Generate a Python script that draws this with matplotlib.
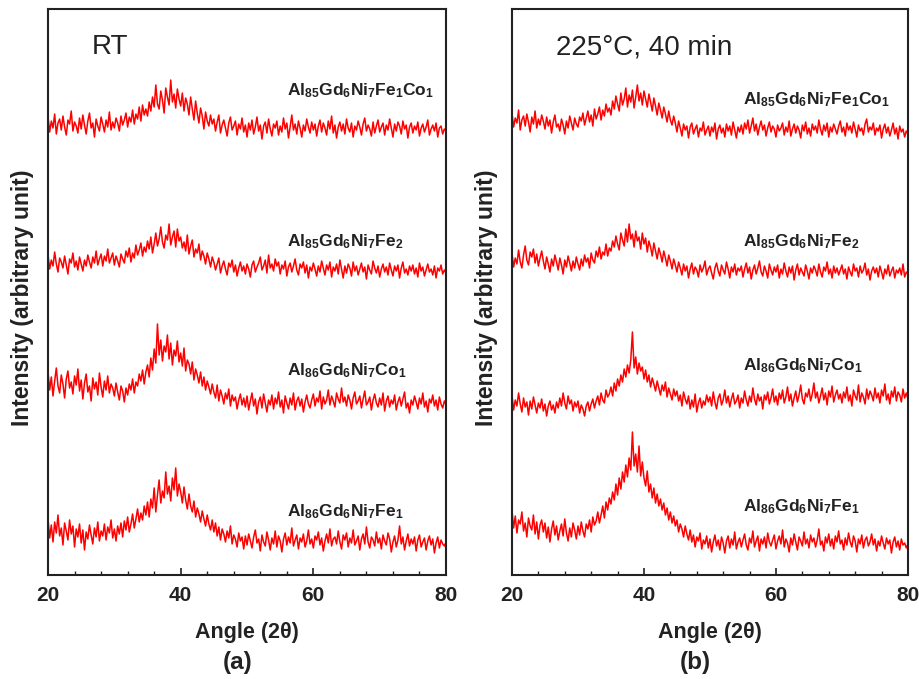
import numpy as np
import matplotlib
matplotlib.use("Agg")
import matplotlib.pyplot as plt
from matplotlib.ticker import MultipleLocator

plt.rcParams['font.family'] = ['Liberation Sans', 'DejaVu Sans']
plt.rcParams['mathtext.fontset'] = 'custom'
plt.rcParams['mathtext.rm'] = 'Liberation Sans'
plt.rcParams['mathtext.bf'] = 'Liberation Sans:bold'

# XRD scans, 20-80 deg (2 theta), 0.25 deg step, intensity in arbitrary units
# one row per 5 deg
rt_fe1co1 = [
    18, 3, 14, 7, 21, 1, 12, 16, 5, 19, 8, 0, 15, 11, 24, 4, 13, 9, 2, 17,
    6, 20, 10, 1, 14, 22, 7, 12, -2, 16, 9, 4, 18, 11, 3, 15, 8, 23, 5, 13,
    7, 17, 12, 4, 19, 10, 15, 22, 8, 18, 13, 25, 11, 21, 16, 28, 14, 30, 20, 26,
    19, 33, 24, 38, 28, 50, 31, 26, 44, 35, 22, 47, 38, 30, 55, 33, 41, 27, 46, 36,
    29, 42, 24, 37, 31, 20, 38, 26, 15, 34, 22, 12, 27, 19, 6, 23, 14, 9, 20, 11,
    16, 4, 13, 20, 2, 10, 15, 7, -1, 12, 18, 5, 9, 14, 0, 11, 6, 17, 3, 10,
    -2, 12, 5, 15, 1, 8, 18, 4, 10, -4, 9, 13, 2, 16, 6, -1, 11, 7, 14, 0,
    9, 3, 17, 6, 12, -3, 8, 20, 5, 11, 1, 14, 7, -2, 10, 4, 16, 8, 2, 13,
    5, 11, -1, 9, 15, 3, 12, 7, 0, 14, 6, 19, 2, 10, -3, 8, 13, 4, 11, 1,
    16, 7, 3, 12, -2, 9, 5, 14, 8, 0, 11, 17, 4, 10, 6, -1, 13, 2, 9, 15,
    3, 8, 12, 0, 10, 5, 16, 7, -2, 11, 4, 13, 9, 1, 14, 6, 10, -3, 8, 12,
    2, 9, 5, 13, -1, 7, 11, 3, 8, 15, 0, 6, 10, 4, 12, -2, 7, 9, 1, 6, 4]
rt_fe2 = [
    20, 6, 15, 9, 23, 11, 3, 17, 13, 7, 19, 10, 1, 16, 12, 22, 8, 14, 5, 18,
    11, 4, 15, 9, 20, 13, 7, 18, 12, 24, 10, 16, 21, 9, 19, 14, 26, 12, 17, 22,
    10, 19, 14, 8, 21, 16, 12, 24, 18, 27, 13, 22, 17, 30, 20, 25, 32, 19, 28, 23,
    34, 26, 38, 22, 31, 42, 29, 36, 48, 33, 27, 40, 35, 51, 30, 38, 44, 28, 46, 34,
    38, 27, 33, 24, 40, 21, 29, 35, 18, 26, 22, 31, 15, 24, 19, 11, 22, 16, 8, 18,
    13, 5, 11, 17, 2, 9, 14, 6, 0, 12, 8, 15, 3, 10, -1, 7, 13, 4, 9, 1,
    11, 6, -2, 10, 14, 3, 8, 12, 18, 5, 9, 15, 2, 20, 7, 11, 4, 16, 9, 13,
    1, 10, 6, 14, -1, 8, 12, 3, 9, 16, 5, 0, 11, 7, 13, 2, 10, -3, 8, 4,
    12, 6, -1, 9, 3, 14, 7, 0, 10, 5, 13, -2, 8, 4, 11, 1, 15, 6, -3, 9,
    2, 11, 7, -1, 13, 4, 9, 0, 6, 12, 3, 8, -4, 10, 5, 1, 14, 7, 2, 9,
    -2, 6, 11, 3, 8, 0, 12, 5, -1, 9, 4, 10, -3, 7, 13, 2, 6, 0, 9, 4,
    10, 1, 7, -2, 12, 4, 8, -1, 5, 11, 3, 6, 0, 9, -3, 7, 4, 10, 1, 5, 2]
rt_co1 = [
    38, 20, 33, 14, 29, 42, 24, 17, 35, 26, 12, 31, 39, 22, 28, 16, 34, 25, 41, 19,
    30, 11, 27, 36, 18, 24, 9, 32, 21, 28, 15, 37, 23, 13, 29, 20, 34, 17, 26, 22,
    14, 27, 18, 10, 24, 19, 8, 22, 15, 26, 20, 31, 17, 28, 24, 36, 29, 40, 26, 38,
    45, 33, 52, 40, 61, 47, 86, 55, 70, 49, 64, 58, 75, 51, 67, 45, 60, 54, 69, 48,
    57, 44, 62, 39, 50, 46, 36, 48, 30, 41, 35, 27, 38, 24, 33, 20, 29, 23, 16, 26,
    18, 12, 25, 9, 20, 14, 6, 17, 11, 21, 4, 15, 9, 13, 1, 10, 16, 5, 12, 3,
    14, 0, 9, 17, 4, 11, -4, 8, 13, 2, 16, 7, -2, 10, 5, 15, 1, 12, 6, 18,
    3, 10, -3, 14, 7, 1, 12, 5, 17, 0, 9, 13, 4, 11, -2, 8, 15, 6, 2, 10,
    16, 4, 12, 8, 19, 1, 13, 6, 10, 20, 5, 14, 9, 3, 17, 11, 7, 22, 8, 13,
    4, 15, 10, 1, 12, 18, 6, 9, 14, 2, 11, 19, 5, 8, 13, 0, 10, 16, 7, 3,
    12, 5, 17, -1, 9, 14, 3, 10, 6, 15, 0, 8, 13, 4, 11, 18, 2, 7, -3, 10,
    5, 14, 8, 1, 12, 6, 17, 3, 9, -2, 11, 7, 15, 4, 10, 0, 13, 6, 2, 9, 5]
rt_fe1 = [
    31, 12, 25, 8, 28, 17, 35, 14, 22, 5, 27, 19, 10, 30, 16, 24, 3, 21, 13, 26,
    7, 20, 0, 18, 11, 25, 15, 6, 22, 13, 28, 9, 19, 14, 26, 10, 23, 17, 30, 12,
    21, 9, 24, 16, 27, 13, 29, 20, 33, 18, 26, 36, 22, 31, 41, 28, 37, 30, 44, 35,
    48, 33, 51, 42, 62, 38, 55, 70, 47, 59, 52, 78, 56, 64, 49, 72, 60, 82, 54, 66,
    58, 47, 63, 50, 41, 56, 44, 38, 49, 33, 42, 36, 28, 39, 31, 24, 35, 26, 20, 30,
    18, 27, 14, 23, 10, 21, 16, 8, 19, 12, 24, 6, 15, 11, 3, 17, 9, 13, 1, 14,
    5, 16, 9, 2, 13, 20, 7, 11, -1, 15, 8, 4, 18, 10, 0, 12, 6, 19, 3, 14,
    9, -2, 11, 17, 5, 13, 7, 22, 4, 10, 15, 1, 12, 8, 16, 3, 9, 20, 6, 11,
    2, 14, 10, 18, 5, 12, -1, 9, 16, 7, 21, 4, 11, 13, 6, 19, 8, 1, 15, 10,
    17, 3, 12, 7, 20, 5, 9, 14, 0, 11, 16, 6, 23, 8, 2, 13, 10, 4, 18, 7,
    12, 1, 15, 9, 5, 17, 11, -2, 8, 14, 3, 10, 24, 6, 13, 0, 9, 16, 4, 11,
    6, 13, -1, 10, 15, 3, 8, 12, 0, 9, 14, 5, 11, -3, 7, 13, 2, 10, 6, 4, 8]

ann_fe1co1 = [
    22, 8, 17, 12, 25, 5, 15, 19, 9, 21, 13, 3, 18, 11, 24, 7, 16, 10, 20, 14,
    6, 18, 9, 15, 2, 13, 20, 8, 11, 4, 16, 10, 1, 14, 7, 19, 12, 5, 17, 11,
    8, 18, 14, 22, 10, 17, 24, 13, 20, 9, 26, 16, 21, 28, 15, 25, 19, 31, 23, 27,
    20, 34, 26, 39, 31, 24, 42, 30, 36, 47, 28, 40, 33, 45, 27, 38, 50, 34, 42, 30,
    44, 36, 28, 41, 33, 24, 37, 29, 20, 32, 25, 17, 28, 21, 13, 24, 15, 10, 19, 12,
    3, 14, 7, -1, 11, 5, 9, -3, 8, 12, 1, 6, 10, -2, 7, 4, 13, 0, 5, 9,
    -1, 8, 3, 12, -4, 6, 10, 2, 7, -2, 11, 4, 9, 0, 13, 5, -3, 8, 3, 10,
    1, 12, 6, 15, 2, 9, 17, 4, 11, 0, 8, 14, 5, 10, -1, 7, 13, 3, 9, 6,
    -2, 10, 4, 7, 12, 0, 8, 3, 14, -1, 6, 11, 2, 9, 5, -3, 10, 4, 13, 1,
    7, -1, 11, 5, 9, 2, 15, 6, 0, 10, 4, 12, -2, 8, 3, 11, 6, 1, 9, 14,
    3, 8, -1, 12, 5, 9, 2, 13, 6, -2, 10, 4, 7, 0, 11, 16, 3, 8, 5, 12,
    0, 7, 4, 10, -3, 6, 11, 2, 8, -1, 5, 12, 1, 7, -4, 9, 3, 6, -2, 4, 1]
ann_fe2 = [
    24, 10, 19, 13, 27, 15, 9, 22, 31, 17, 12, 25, 20, 28, 14, 23, 11, 19, 26, 16,
    8, 20, 13, 5, 18, 11, 22, 15, 7, 19, 12, 3, 17, 10, 21, 14, 6, 16, 9, 20,
    13, 7, 18, 11, 22, 15, 19, 9, 24, 17, 14, 26, 20, 30, 18, 25, 22, 33, 21, 29,
    26, 36, 30, 41, 33, 27, 44, 37, 31, 48, 35, 53, 38, 43, 30, 46, 36, 40, 28, 44,
    33, 39, 25, 36, 30, 21, 34, 26, 18, 29, 23, 15, 26, 19, 11, 22, 16, 8, 18, 12,
    5, 15, 9, 2, 13, 6, 11, -1, 8, 14, 3, 10, 7, 0, 12, 5, 9, 16, 2, 8,
    11, 4, -2, 9, 14, 6, 1, 12, 7, 3, 15, 8, -1, 10, 5, 13, 2, 9, 6, 11,
    0, 8, 14, 4, 10, -2, 7, 12, 3, 9, 16, 5, 1, 11, 6, -1, 13, 7, 2, 10,
    5, 12, -1, 8, 3, 14, 6, 0, 10, 4, 11, -3, 7, 13, 2, 9, 5, 1, 12, 6,
    -2, 9, 4, 11, 7, 1, 13, 5, 0, 10, 6, 15, 3, 8, -1, 11, 4, 9, 2, 7,
    12, 3, 8, -2, 10, 5, 1, 13, 6, 9, 0, 11, 4, 7, 14, 2, 8, -3, 6, 10,
    4, 9, 0, 11, 5, -2, 8, 3, 12, 1, 6, 10, -1, 7, 4, 9, 2, 13, 0, 5, 3]
ann_co1 = [
    20, 5, 15, 9, 22, 11, 3, 17, 8, 13, 0, 14, 6, 18, 10, 2, 12, 7, 16, 4,
    11, -1, 9, 14, 5, 10, 2, 13, 7, 17, 9, 22, 12, 6, 19, 11, 15, 4, 13, 8,
    14, 2, 10, 6, -1, 9, 13, 4, 11, 16, 7, 14, 19, 10, 22, 15, 12, 25, 18, 21,
    28, 19, 32, 24, 36, 29, 40, 33, 46, 38, 50, 42, 55, 83, 47, 58, 41, 52, 44, 48,
    36, 45, 33, 40, 28, 37, 31, 24, 34, 27, 20, 30, 24, 33, 18, 27, 21, 15, 26, 19,
    24, 14, 20, 9, 23, 16, 11, 19, 6, 15, 8, 21, 3, 12, 17, 7, 14, 10, 20, 13,
    18, 9, 23, 13, 6, 17, 21, 10, 15, 25, 12, 19, 8, 16, 22, 11, 14, 20, 7, 17,
    12, 24, 15, 9, 19, 13, 27, 16, 10, 21, 14, 18, 6, 20, 15, 23, 11, 17, 26, 13,
    19, 10, 22, 16, 25, 12, 18, 28, 14, 21, 9, 17, 24, 13, 20, 30, 16, 11, 22, 18,
    26, 14, 21, 32, 17, 23, 12, 19, 27, 15, 22, 10, 24, 18, 29, 13, 20, 25, 16, 21,
    12, 23, 17, 28, 14, 20, 9, 25, 19, 15, 30, 13, 22, 18, 11, 26, 16, 24, 20, 14,
    27, 17, 22, 12, 25, 19, 31, 15, 21, 11, 24, 18, 28, 14, 23, 20, 13, 26, 17, 22, 16]
ann_fe1 = [
    40, 22, 34, 17, 30, 26, 38, 19, 27, 13, 32, 24, 20, 35, 16, 28, 11, 25, 30, 18,
    27, 12, 23, 8, 21, 29, 15, 24, 10, 19, 26, 14, 31, 17, 9, 22, 13, 27, 20, 11,
    24, 15, 28, 19, 13, 26, 21, 30, 18, 33, 25, 29, 38, 27, 35, 44, 32, 48, 40, 52,
    46, 58, 50, 66, 55, 72, 61, 78, 68, 85, 73, 92, 80, 118, 84, 96, 78, 104, 74, 88,
    72, 64, 79, 58, 66, 52, 62, 47, 56, 44, 51, 40, 47, 35, 42, 30, 38, 27, 34, 24,
    30, 18, 26, 21, 13, 24, 16, 10, 20, 8, 15, 3, 13, 9, 17, 1, 10, 6, 14, 2,
    11, -2, 8, 15, 4, 10, 0, 13, 7, -3, 9, 14, 2, 11, 5, 18, 1, 8, 12, 3,
    10, 16, 5, 0, 12, 7, 19, 3, 9, 14, -1, 11, 6, 13, 2, 17, 8, 4, 10, 15,
    1, 9, 14, 6, 20, 3, 11, 7, -2, 12, 5, 16, 8, 0, 13, 9, 4, 18, 6, 11,
    2, 15, 8, 12, 3, 10, 21, 5, 9, -1, 13, 7, 16, 4, 11, 1, 14, 8, 19, 6,
    10, 0, 12, 5, 17, 8, 3, 14, 9, -2, 11, 6, 15, 2, 10, 13, 4, 8, 16, 5,
    11, -1, 9, 4, 14, 7, 1, 12, 6, 10, -3, 8, 13, 3, 9, 0, 11, 5, 7, 2, 6]

labels = [r'$\mathbf{Al_{85}Gd_{6}Ni_{7}Fe_{1}Co_{1}}$',
          r'$\mathbf{Al_{85}Gd_{6}Ni_{7}Fe_{2}}$',
          r'$\mathbf{Al_{86}Gd_{6}Ni_{7}Co_{1}}$',
          r'$\mathbf{Al_{86}Gd_{6}Ni_{7}Fe_{1}}$']

panels = [
    dict(traces=[rt_fe1co1, rt_fe2, rt_co1, rt_fe1], shift=[440, 300, 165, 25],
         label_y=[484, 333, 204, 63], label_x=56.0, title='RT', tag='(a)',
         tag_dx=-0.010, rect=[0.0522, 0.1532, 0.4326, 0.8335]),
    dict(traces=[ann_fe1co1, ann_fe2, ann_co1, ann_fe1], shift=[440, 298, 160, 25],
         label_y=[475, 333, 209, 68], label_x=55.0, title='225\u00b0C, 40 min', tag='(b)',
         tag_dx=-0.016, rect=[0.5565, 0.1532, 0.4304, 0.8335]),
]

fig = plt.figure(figsize=(9.2, 6.79), dpi=100)

for p in panels:
    ax = fig.add_axes(p['rect'])
    for vals, dy in zip(p['traces'], p['shift']):
        y = np.array(vals, dtype=float) + dy
        x = np.linspace(20, 80, len(y))
        ax.plot(x, y, color='#ff0000', lw=1.1)
    for lab, ly in zip(labels, p['label_y']):
        ax.text(p['label_x'], ly, lab, fontsize=12.5, va='center', ha='left', color='#222222')
    ax.text(26.6, 528, p['title'], fontsize=20, va='center', ha='left', color='#222222')

    ax.set_xlim(20, 80)
    ax.set_ylim(0, 566)
    ax.xaxis.set_major_locator(MultipleLocator(20))
    ax.xaxis.set_minor_locator(MultipleLocator(4))
    ax.tick_params(axis='x', which='major', direction='in', length=5, width=1.2,
                   labelsize=15, pad=8, colors='#222222')
    ax.tick_params(axis='x', which='minor', direction='in', length=3, width=1.0,
                   colors='#222222')
    ax.set_yticks([])
    for lbl in ax.get_xticklabels():
        lbl.set_fontweight('bold')
    for s in ax.spines.values():
        s.set_linewidth(1.5)
        s.set_color('#222222')

    x0, y0, w, h = p['rect']
    fig.text(x0 + w / 2, 0.069, 'Angle (2\u03b8)', fontsize=15.5, fontweight='bold',
             ha='center', va='center', color='#222222')
    fig.text(x0 + w / 2 + p['tag_dx'], 0.025, p['tag'], fontsize=17.5, fontweight='bold',
             ha='center', va='center', color='#222222')
    fig.text(x0 - 0.028, 0.561, 'Intensity (arbitrary unit)', fontsize=16.5,
             fontweight='bold', rotation=90, ha='center', va='center', color='#222222')

fig.savefig('out.png', dpi=100)
